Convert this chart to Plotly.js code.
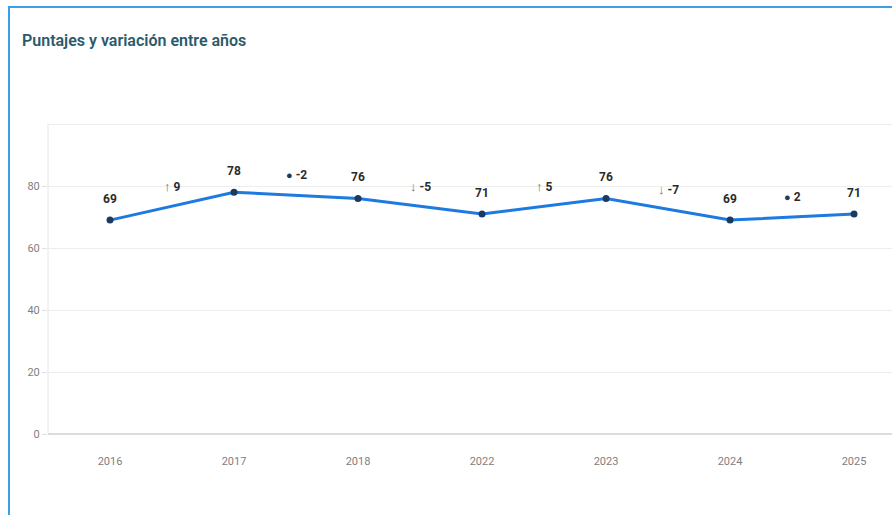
<!DOCTYPE html>
<html>
<head>
<meta charset="utf-8">
<script src="https://cdn.plot.ly/plotly-3.0.1.min.js"></script>
<style>
  html, body { margin: 0; padding: 0; background: #fff; overflow: hidden; width: 892px; height: 515px; }
  #wrap { position: relative; width: 892px; height: 515px; overflow: hidden; }
  #chart { position: absolute; left: 0; top: 0; width: 892px; height: 515px; }
  #card { position: absolute; left: 8px; top: 6px; width: 1000px; height: 600px;
          border-left: 2px solid #3b9fe6; border-top: 2px solid #3b9fe6; pointer-events: none; }
</style>
</head>
<body>
<div id="wrap">
  <div id="chart"></div>
  <div id="card"></div>
</div>
<script>
const years = ['2016', '2017', '2018', '2022', '2023', '2024', '2025'];
const scores = [69, 78, 76, 71, 76, 69, 71];
const changes = [9, -2, -5, 5, -7, 2];
const yTickVals = [0, 20, 40, 60, 80];
const yTickText = ['0', '20', '40', '60', '80'];

const W = 892, H = 515;

const annotations = [];
scores.forEach((v, i) => {
  annotations.push({
    x: i, y: v, xref: 'x', yref: 'y', text: '<b>' + v + '</b>',
    showarrow: false, yshift: 21,
    font: { family: 'Roboto, sans-serif', size: 12, color: '#2b2b2b' }
  });
});
changes.forEach((d, i) => {
  const mid = (scores[i] + scores[i + 1]) / 2;
  let sym, col, sz;
  if (Math.abs(d) < 3) { sym = '●'; col = '#1d3b5c'; sz = 11; }
  else if (d > 0) { sym = '↑'; col = '#4f7d72'; sz = 13; }
  else { sym = '↓'; col = '#6b7d7a'; sz = 13; }
  annotations.push({
    x: i + 0.5, y: mid, xref: 'x', yref: 'y',
    text: '<span style="color:' + col + ';font-size:' + sz + 'px">' + sym + '</span> <b>' + d + '</b>',
    showarrow: false, yshift: 20,
    font: { family: 'Roboto, sans-serif', size: 12, color: '#2b2b2b' }
  });
});

const trace = {
  x: years, y: scores, type: 'scatter', mode: 'lines+markers',
  line: { color: '#1c7ae0', width: 3 },
  marker: { color: '#1b3a5e', size: 7 },
  hoverinfo: 'x+y'
};

const layout = {
  width: W, height: H,
  margin: { l: 48, r: 0, t: 124, b: 81 },
  paper_bgcolor: '#ffffff', plot_bgcolor: '#ffffff',
  showlegend: false,
  title: {
    text: 'Puntajes y variación entre años',
    xref: 'container', yref: 'container',
    x: 22 / W, xanchor: 'left', y: 1 - 40 / H, yanchor: 'middle',
    font: { family: 'Roboto, sans-serif', size: 16, color: '#2a5a6c', weight: 600 }
  },
  xaxis: {
    type: 'category', range: [-0.5, 6.306],
    showgrid: false, zeroline: false,
    showline: false,
    ticks: 'outside', ticklen: 17, tickcolor: 'rgba(0,0,0,0)',
    tickfont: { family: 'Roboto, sans-serif', size: 11, color: '#808080' },
    fixedrange: true
  },
  yaxis: {
    range: [0, 100], tickvals: yTickVals, ticktext: yTickText,
    showgrid: true, gridcolor: '#eeeeee', gridwidth: 1,
    zeroline: true, zerolinecolor: '#dcdcdc', zerolinewidth: 2,
    showline: false,
    ticks: 'outside', ticklen: 5, tickcolor: '#e0e0e0',
    tickfont: { family: 'Roboto, sans-serif', size: 11, color: '#808080' },
    fixedrange: true
  },
  shapes: [{
    type: 'line', xref: 'paper', yref: 'y', x0: 0, x1: 1, y0: 100, y1: 100,
    line: { color: '#e8e8e8', width: 1.5 }, layer: 'below'
  }, {
    type: 'line', xref: 'paper', yref: 'y', x0: 0, x1: 0, y0: 0, y1: 100,
    line: { color: '#e6e6e6', width: 1 }, layer: 'below'
  }],
  annotations: annotations
};

Plotly.newPlot('chart', [trace], layout, { displayModeBar: false, staticPlot: true });
</script>
</body>
</html>
